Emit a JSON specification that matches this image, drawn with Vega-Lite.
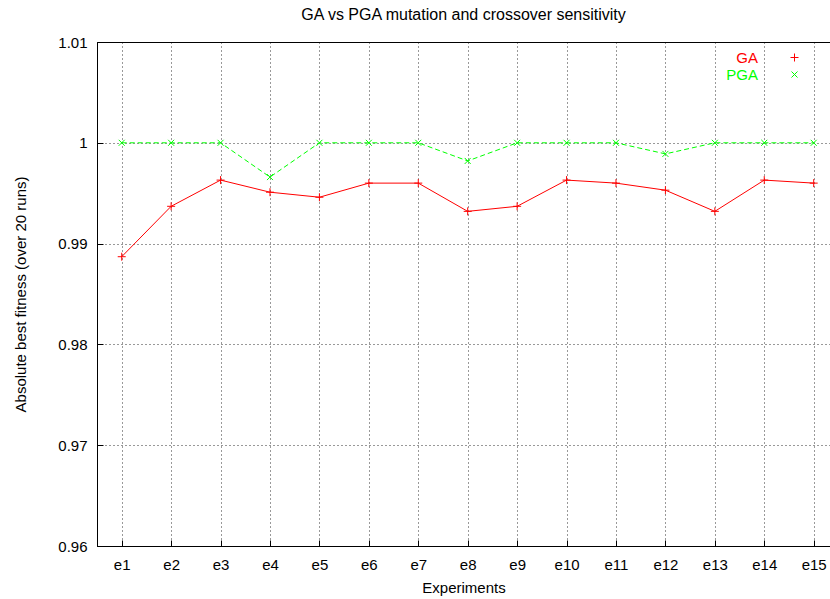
{
  "$schema": "https://vega.github.io/schema/vega-lite/v6.json",
  "width": 733,
  "height": 504,
  "autosize": {"type": "none"},
  "padding": {"left": 97, "top": 42, "right": 0, "bottom": 53},
  "background": "white",
  "title": {"text": "GA vs PGA mutation and crossover sensitivity", "fontSize": 16, "font": "Liberation Sans", "fontWeight": "normal", "color": "black", "offset": 12},
  "config": {
    "font": "Liberation Sans",
    "view": {"stroke": "black", "strokeWidth": 1},
    "axis": {
      "domainColor": "black", "labelColor": "black", "titleColor": "black",
      "labelFont": "Liberation Sans", "titleFont": "Liberation Sans",
      "labelFontSize": 15, "titleFontSize": 15, "titleFontWeight": "normal",
      "gridColor": "black", "gridDash": [1, 3], "gridOpacity": 0.8, "gridWidth": 1,
      "tickColor": "black", "tickSize": -6, "tickWidth": 1
    }
  },
  "data": {"values": [
    {"exp": "e1", "n": 1, "algo": "GA", "fitness": 0.9887},
    {"exp": "e2", "n": 2, "algo": "GA", "fitness": 0.9937},
    {"exp": "e3", "n": 3, "algo": "GA", "fitness": 0.9963},
    {"exp": "e4", "n": 4, "algo": "GA", "fitness": 0.9951},
    {"exp": "e5", "n": 5, "algo": "GA", "fitness": 0.9946},
    {"exp": "e6", "n": 6, "algo": "GA", "fitness": 0.9960},
    {"exp": "e7", "n": 7, "algo": "GA", "fitness": 0.9960},
    {"exp": "e8", "n": 8, "algo": "GA", "fitness": 0.9932},
    {"exp": "e9", "n": 9, "algo": "GA", "fitness": 0.9937},
    {"exp": "e10", "n": 10, "algo": "GA", "fitness": 0.9963},
    {"exp": "e11", "n": 11, "algo": "GA", "fitness": 0.9960},
    {"exp": "e12", "n": 12, "algo": "GA", "fitness": 0.9953},
    {"exp": "e13", "n": 13, "algo": "GA", "fitness": 0.9932},
    {"exp": "e14", "n": 14, "algo": "GA", "fitness": 0.9963},
    {"exp": "e15", "n": 15, "algo": "GA", "fitness": 0.9960},
    {"exp": "e1", "n": 1, "algo": "PGA", "fitness": 1.0},
    {"exp": "e2", "n": 2, "algo": "PGA", "fitness": 1.0},
    {"exp": "e3", "n": 3, "algo": "PGA", "fitness": 1.0},
    {"exp": "e4", "n": 4, "algo": "PGA", "fitness": 0.9966},
    {"exp": "e5", "n": 5, "algo": "PGA", "fitness": 1.0},
    {"exp": "e6", "n": 6, "algo": "PGA", "fitness": 1.0},
    {"exp": "e7", "n": 7, "algo": "PGA", "fitness": 1.0},
    {"exp": "e8", "n": 8, "algo": "PGA", "fitness": 0.9982},
    {"exp": "e9", "n": 9, "algo": "PGA", "fitness": 1.0},
    {"exp": "e10", "n": 10, "algo": "PGA", "fitness": 1.0},
    {"exp": "e11", "n": 11, "algo": "PGA", "fitness": 1.0},
    {"exp": "e12", "n": 12, "algo": "PGA", "fitness": 0.9989},
    {"exp": "e13", "n": 13, "algo": "PGA", "fitness": 1.0},
    {"exp": "e14", "n": 14, "algo": "PGA", "fitness": 1.0},
    {"exp": "e15", "n": 15, "algo": "PGA", "fitness": 1.0}
  ]},
  "encoding": {
    "x": {"field": "n", "type": "quantitative",
      "scale": {"domain": [0.5, 15.33], "nice": false, "zero": false},
      "axis": {"values": [1,2,3,4,5,6,7,8,9,10,11,12,13,14,15], "labelExpr": "'e' + datum.value", "title": "Experiments", "labelPadding": 17, "titlePadding": 8, "grid": true}},
    "y": {"field": "fitness", "type": "quantitative",
      "scale": {"domain": [0.96, 1.01], "nice": false, "zero": false},
      "axis": {"values": [0.96, 0.97, 0.98, 0.99, 1.0, 1.01], "format": ".2~f", "title": "Absolute best fitness (over 20 runs)", "labelPadding": 16, "titlePadding": 29, "grid": true}},
    "color": {"field": "algo", "type": "nominal",
      "scale": {"domain": ["GA", "PGA"], "range": ["#ff0000", "#00ff00"]},
      "legend": {"title": null, "orient": "none", "legendX": 690, "legendY": 8, "labelFontSize": 15, "labelFont": "Liberation Sans", "labelAlign": "right", "labelOffset": -44, "rowPadding": 1, "symbolStrokeWidth": 1, "symbolSize": 64,
        "encode": {"labels": {"update": {"fill": {"scale": "color", "field": "value"}}}}}}
  },
  "layer": [
    {"transform": [{"filter": "datum.algo === 'GA'"}],
     "mark": {"type": "line", "strokeWidth": 1}},
    {"transform": [{"filter": "datum.algo === 'PGA'"}],
     "mark": {"type": "line", "strokeWidth": 1, "strokeDash": [5, 3]}},
    {"mark": {"type": "point", "filled": false, "strokeWidth": 1, "size": 64, "opacity": 1},
     "encoding": {"shape": {"field": "algo", "type": "nominal", "scale": {"domain": ["GA", "PGA"], "range": ["M-1,0H1M0,-1V1", "M-0.75,-0.75L0.75,0.75M-0.75,0.75L0.75,-0.75"]}}}}
  ]
}
